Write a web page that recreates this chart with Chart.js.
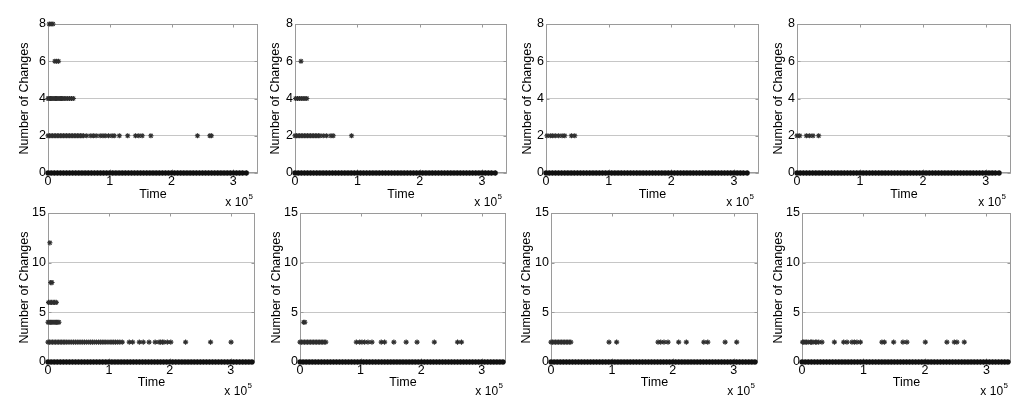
<!DOCTYPE html>
<html>
<head>
<meta charset="utf-8">
<script src="https://cdn.jsdelivr.net/npm/chart.js@4.4.1/dist/chart.umd.min.js"></script>
<style>
  html, body { margin: 0; padding: 0; background: #ffffff; }
  #wrap { position: relative; width: 1024px; height: 402px; overflow: hidden; background: #ffffff; }
  #wrap canvas { position: absolute; }
</style>
</head>
<body>
<div id="wrap"></div>
<script>
// ---------------- DATA ----------------
const xTickLabels = ['0', '1', '2', '3'];
const xExponent = '5';
const xTitle = 'Time';
const yTitle = 'Number of Changes';
const yTicksTop = [0, 2, 4, 6, 8];
const yTicksBottom = [0, 5, 10, 15];

// time stamps of the "0 changes" row (dense band)
const zeroTimesTop = [0,5000,10000,15000,20000,25000,30000,35000,40000,45000,50000,55000,60000,65000,70000,75000,80000,85000,90000,95000,100000,105000,110000,115000,120000,125000,130000,135000,140000,145000,150000,155000,160000,165000,170000,175000,180000,185000,190000,195000,200000,205000,210000,215000,220000,225000,230000,235000,240000,245000,250000,255000,260000,265000,270000,275000,280000,285000,290000,295000,300000,305000,310000,315000,321000];
const zeroTimesBottom = [0,5000,10000,15000,20000,25000,30000,35000,40000,45000,50000,55000,60000,65000,70000,75000,80000,85000,90000,95000,100000,105000,110000,115000,120000,125000,130000,135000,140000,145000,150000,155000,160000,165000,170000,175000,180000,185000,190000,195000,200000,205000,210000,215000,220000,225000,230000,235000,240000,245000,250000,255000,260000,265000,270000,275000,280000,285000,290000,295000,300000,305000,310000,315000,320000,325000,330000,335000];

// panel 1 (top, 1st)
const p1y2 = [0,2500,5000,7500,10000,12500,15000,17500,20000,22500,25000,27500,30000,32500,35000,37500,40000,42500,45000,47500,50000,52500,55000,57500,62700,69300,73500,78000,84500,88900,92700,98000,103600,107300,115500,129000,141700,147000,152500,166600,242000,262000,264500];
const p1y4 = [0,2000,4000,6000,8000,10000,12000,14000,16000,18000,20000,22000,24000,26000,29000,32000,35000,38000,41000];
const p1y6 = [11000,14000,17000];
const p1y8 = [2000,5000,8000];
// panel 2 (top, 2nd)
const p2y2 = [0,2500,5000,7500,10000,12500,15000,17500,20000,22500,25000,27500,30000,32500,35000,37500,40000,45300,50700,57600,61300,90700];
const p2y4 = [1000,4000,7000,10000,13000,16000,19000];
const p2y6 = [9600];
// panel 3 (top, 3rd)
const p3y2 = [1600,6900,10600,14900,20200,25700,29900,40600,45900];
// panel 4 (top, 4th)
const p4y2 = [0,4300,14900,20100,25400,34400];
// panel 5 (bottom, 1st)
const p5y2 = [0,2500,5000,7500,10000,12500,15000,17500,20000,22500,25000,27500,30000,33000,36000,39000,42000,45000,48000,51000,54000,57000,60000,63500,67000,70000,73000,76000,79500,83000,86000,89000,92000,95000,98500,102000,105000,108000,111000,114500,118000,122000,133500,139000,150000,156500,166000,176000,182500,185000,188000,190500,196000,201700,226000,267000,300700];
const p5y4 = [0,2000,4000,6000,8000,10000,12000,14000,16000,18000];
const p5y6 = [1000,3500,6000,8500,11000,13500];
const p5y8 = [4500,6500];
const p5y12 = [3000];
// panel 6 (bottom, 2nd)
const p6y2 = [0,2500,5000,7500,10000,12500,15000,17500,20000,22500,25000,27500,30000,32500,35000,37500,40000,42500,93000,98500,102300,106700,112200,118800,134100,139600,154900,175200,193200,221700,260000,266500];
const p6y4 = [6000,8000];
// panel 7 (bottom, 3rd)
const p7y2 = [0,2500,5000,7500,10000,12500,15000,17500,20000,22500,25000,27500,30000,32500,95300,107800,175800,180200,185600,192200,209700,222300,251000,257500,286000,305000];
// panel 8 (bottom, 4th)
const p8y2 = [1000,2800,5000,7100,10000,13700,15500,17900,21800,24000,27200,32500,52700,67800,73200,81300,85200,89400,95000,130000,134000,149100,164200,170700,200600,235700,247800,252000,264000];

// table of series per panel: [level, times]
const panelSeries = [
  [[0, zeroTimesTop], [2, p1y2], [4, p1y4], [6, p1y6], [8, p1y8]],
  [[0, zeroTimesTop], [2, p2y2], [4, p2y4], [6, p2y6]],
  [[0, zeroTimesTop], [2, p3y2]],
  [[0, zeroTimesTop], [2, p4y2]],
  [[0, zeroTimesBottom], [2, p5y2], [4, p5y4], [6, p5y6], [8, p5y8], [12, p5y12]],
  [[0, zeroTimesBottom], [2, p6y2], [4, p6y4]],
  [[0, zeroTimesBottom], [2, p7y2]],
  [[0, zeroTimesBottom], [2, p8y2]]
];

// ---------------- LAYOUT (page pixels) ----------------
const layout = [
  {L: 48,  T: 24,  R: 258,  B: 173, yt: 25,  row: 0},
  {L: 295, T: 24,  R: 507,  B: 173, yt: 276, row: 0},
  {L: 546, T: 24,  R: 759,  B: 173, yt: 528, row: 0},
  {L: 797, T: 24,  R: 1011, B: 173, yt: 779, row: 0},
  {L: 48,  T: 213, R: 255,  B: 362, yt: 25,  row: 1},
  {L: 300, T: 213, R: 506,  B: 362, yt: 277, row: 1},
  {L: 551, T: 213, R: 758,  B: 362, yt: 527, row: 1},
  {L: 802, T: 213, R: 1011, B: 362, yt: 779, row: 1}
];
const X_MAX = 340000;
const FONT = '"Liberation Sans", Arial, Helvetica, sans-serif';
const PAD_TOP = 12, PAD_RIGHT = 8, XAXIS_H = 40;

const framePlugin = {
  id: 'frame',
  beforeDatasetsDraw(chart) {
    const {ctx, chartArea, scales} = chart;
    const l = Math.round(chartArea.left) + 0.5, r = Math.round(chartArea.right) - 0.5;
    const t = Math.round(chartArea.top) + 0.5, b = Math.round(chartArea.bottom) - 0.5;
    ctx.save();
    ctx.strokeStyle = '#9a9a9a';
    ctx.lineWidth = 1;
    ctx.strokeRect(l, t, r - l, b - t);
    ctx.beginPath();
    scales.x.ticks.forEach(tk => {
      const px = Math.round(scales.x.getPixelForValue(tk.value)) + 0.5;
      ctx.moveTo(px, b); ctx.lineTo(px, b - 3);
      ctx.moveTo(px, t); ctx.lineTo(px, t + 3);
    });
    scales.y.ticks.forEach(tk => {
      const py = Math.round(scales.y.getPixelForValue(tk.value)) + 0.5;
      ctx.moveTo(l, py); ctx.lineTo(l + 3, py);
      ctx.moveTo(r, py); ctx.lineTo(r - 3, py);
    });
    ctx.stroke();
    ctx.restore();
  },
  afterDraw(chart, args, opts) {
    const {ctx, chartArea} = chart;
    const endX = chartArea.right - opts.endInset;
    const base = chartArea.bottom + 33;
    ctx.save();
    ctx.fillStyle = '#000';
    ctx.textBaseline = 'alphabetic';
    ctx.font = '8px ' + FONT;
    const w5 = ctx.measureText(xExponent).width;
    ctx.textAlign = 'left';
    ctx.fillText(xExponent, endX - w5, base - 7);
    ctx.font = '12px ' + FONT;
    ctx.textAlign = 'right';
    ctx.fillText('x 10', endX - w5 - 0.5, base);
    ctx.restore();
  }
};

const wrap = document.getElementById('wrap');
layout.forEach((g, i) => {
  const cLeft = g.yt - 10;
  const cTop = g.T - PAD_TOP;
  const cW = (g.R + PAD_RIGHT) - cLeft;
  const cH = (g.B + XAXIS_H) - cTop;
  const yW = g.L - cLeft;
  const cv = document.createElement('canvas');
  cv.width = cW; cv.height = cH;
  cv.style.left = cLeft + 'px'; cv.style.top = cTop + 'px';
  cv.style.width = cW + 'px'; cv.style.height = cH + 'px';
  wrap.appendChild(cv);

  const yTicks = g.row === 0 ? yTicksTop : yTicksBottom;
  const datasets = panelSeries[i].map(([lvl, times]) => ({
    data: times.map(t => ({x: t, y: lvl})),
    pointStyle: 'star',
    pointRadius: lvl === 0 ? 2.8 : 2.6,
    pointBorderWidth: lvl === 0 ? 1.7 : 1.1,
    borderColor: lvl === 0 ? '#111111' : '#2e2e2e',
    backgroundColor: '#2e2e2e',
    showLine: false,
    clip: false
  }));

  new Chart(cv, {
    type: 'scatter',
    data: {datasets},
    plugins: [framePlugin],
    options: {
      responsive: false,
      animation: false,
      devicePixelRatio: 1,
      layout: {padding: {left: 0, top: PAD_TOP, right: PAD_RIGHT, bottom: 0}},
      plugins: {
        legend: {display: false},
        tooltip: {enabled: false},
        frame: {endInset: g.row === 0 ? 5 : 3}
      },
      scales: {
        x: {
          type: 'linear',
          min: 0, max: X_MAX,
          afterBuildTicks: s => { s.ticks = xTickLabels.map((_, k) => ({value: k * 100000})); },
          afterFit: s => { s.height = XAXIS_H; },
          ticks: {
            includeBounds: false,
            stepSize: 100000,
            padding: 1,
            color: '#000',
            font: {family: FONT, size: 12.5},
            maxRotation: 0,
            autoSkip: false,
            callback: (v, k) => xTickLabels[k]
          },
          grid: {display: true, drawOnChartArea: false, drawTicks: false},
          border: {display: false},
          title: {
            display: true, text: xTitle, color: '#000',
            font: {family: FONT, size: 12.5},
            padding: {top: 0, bottom: g.row === 0 ? 10.5 : 11.5}
          }
        },
        y: {
          type: 'linear',
          min: 0, max: yTicks[yTicks.length - 1],
          afterBuildTicks: s => { s.ticks = yTicks.map(v => ({value: v})); },
          afterFit: s => { s.width = yW; },
          ticks: {
            padding: 2,
            color: '#000',
            font: {family: FONT, size: 12.5},
            autoSkip: false,
            callback: v => String(v)
          },
          grid: {color: '#c6c6c6', lineWidth: 1, drawTicks: false},
          border: {display: false},
          title: {
            display: true, text: yTitle, color: '#000',
            font: {family: FONT, size: 12.5},
            padding: {top: 2.5, bottom: 0}
          }
        }
      }
    }
  });
});
</script>
</body>
</html>
